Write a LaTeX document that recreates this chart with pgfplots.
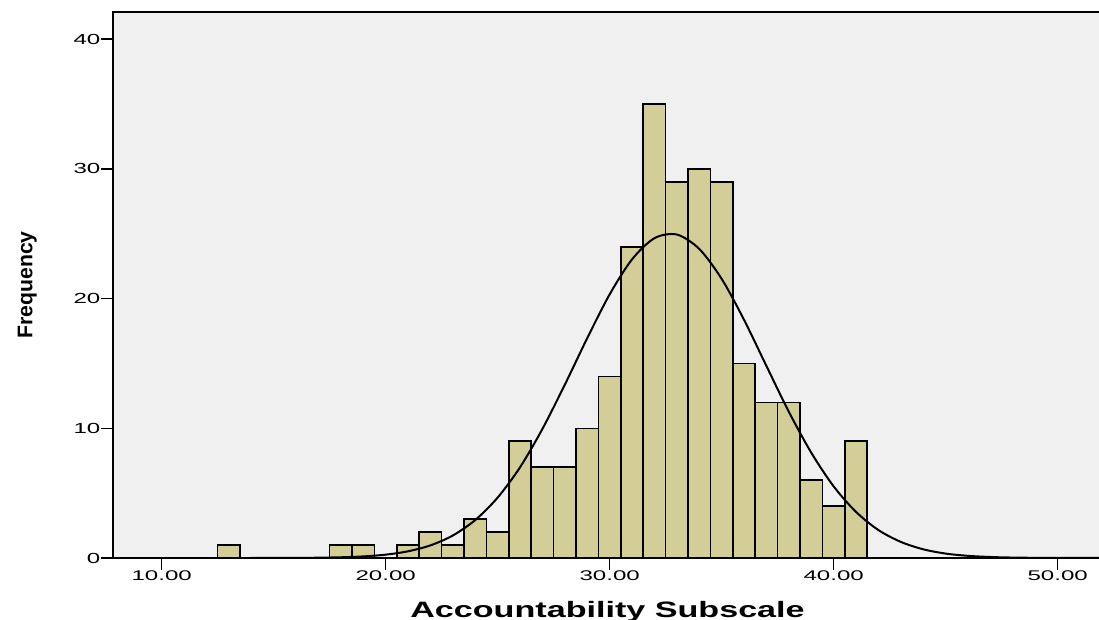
\documentclass[border=0pt]{standalone}
\usepackage{fontspec}
\setmainfont{Liberation Sans}
\usepackage{pgfplots}
\pgfplotsset{compat=1.18}
\definecolor{barfill}{HTML}{D3CE97}
\definecolor{bgc}{HTML}{F0F0F0}
\begin{document}
\begin{tikzpicture}
\useasboundingbox (0,0) rectangle (549.5pt,310pt);
\clip (0,0) rectangle (549.5pt,310pt);
\begin{axis}[
  at={(56.5pt,31pt)}, anchor=south west,
  scale only axis, width=494.5pt, height=273pt,
  xmin=7.826, xmax=51.98, ymin=0, ymax=42.1,
  axis background/.style={fill=bgc},
  axis line style={line width=0.8pt, black},
  tick pos=left, tick align=outside, major tick length=6pt,
  every tick/.style={black, line width=0.8pt},
  xtick={10,20,30,40,50}, xticklabels={10.00,20.00,30.00,40.00,50.00},
  ytick={0,10,20,30,40}, yticklabels={0,10,20,30,40},
  /pgf/number format/assume math mode=true,
  xticklabel style={font=\fontsize{7}{8}\selectfont, inner sep=0pt, anchor=north, xscale=1.72},
  yticklabel style={font=\fontsize{7.3}{8}\selectfont, inner sep=0pt, anchor=east, xscale=1.65},
  xlabel={Accountability Subscale},
  ylabel={Frequency},
  every axis x label/.style={at={(axis description cs:0.5,-0.1081)}, anchor=base, font=\bfseries\fontsize{11.15}{13}\selectfont, xscale=1.53},
  every axis y label/.style={at={(axis description cs:-0.0816,0.5)}, rotate=90, anchor=base, font=\bfseries\fontsize{10.6}{12}\selectfont},
]
\addplot[ybar, bar width=1, bar shift=0pt, fill=barfill, draw=black, line width=0.8pt] coordinates {
(13,1) (18,1) (19,1) (21,1) (22,2) (23,1) (24,3) (25,2) (26,9) (27,7) (28,7) (29,10)
(30,14) (31,24) (32,35) (33,29) (34,30) (35,29) (36,15) (37,12) (38,12) (39,6) (40,4) (41,9)
};
\addplot[smooth, black, line width=1pt, no markers] coordinates {
(14,0.0012) (16,0.009) (17,0.023) (18,0.055) (19,0.122) (20,0.258) (21,0.516) (22,0.974)
(23,1.737) (24,2.93) (25,4.66) (26,7.00) (27,9.96) (28,13.37) (29,16.96) (30,20.33)
(31,23.03) (32,24.66) (33,24.94) (34,23.83) (35,21.52) (36,18.36) (37,14.80) (38,11.27)
(39,8.12) (40,5.52) (41,3.55) (42,2.15) (43,1.24) (44,0.67) (45,0.34) (46,0.166)
(47,0.076) (48,0.033) (49,0.013) (50,0.005) (52,0.0)
};
\end{axis}
\end{tikzpicture}
\end{document}
